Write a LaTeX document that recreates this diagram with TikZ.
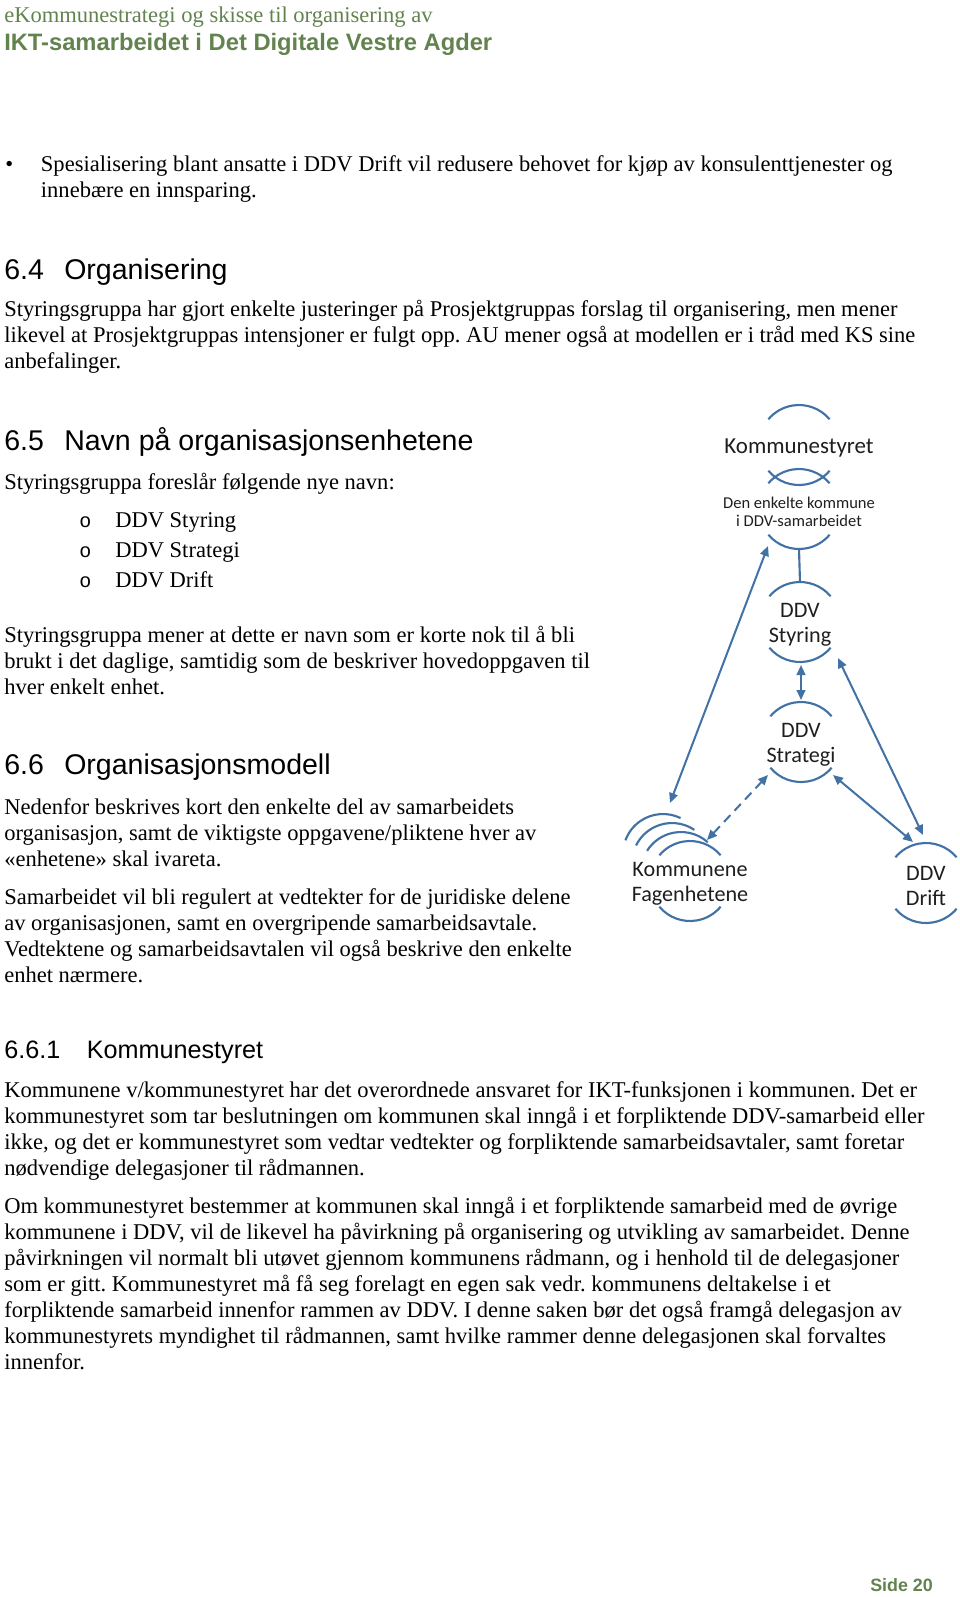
\documentclass[tikz,border=0pt]{standalone}
\usepackage{fontspec}
\setmainfont{Liberation Serif}
\setmonofont{Liberation Mono}
\newfontfamily\headfont{Liberation Sans}
\newfontfamily\diagfont{Carlito}
\usetikzlibrary{arrows.meta,calc}
\frenchspacing

\definecolor{hdrgreen}{RGB}{98,130,78}
\definecolor{orgblue}{RGB}{66,113,166}
\definecolor{orgtext}{RGB}{30,30,30}

\tikzset{
  body/.style={anchor=base west, inner sep=0pt, align=left, font=\fontsize{16.9}{19.5}\selectfont},
  heading/.style={anchor=base west, inner sep=0pt, font=\headfont\fontsize{21.4}{24}\selectfont},
  unit/.style={align=center, inner sep=0pt, text=orgtext, font=\diagfont\fontsize{16.6}{19}\selectfont},
  ring/.style={orgblue, line width=1.6pt},
  link/.style={orgblue, line width=1.5pt, {Triangle[length=7.5pt,width=6.5pt]}-{Triangle[length=7.5pt,width=6.5pt]}}
}

\begin{document}
\begin{tikzpicture}[x=0.75pt, y=0.75pt]
\useasboundingbox (0,0) rectangle (960,-1597);

% page header
\node[body, text=hdrgreen] (hdrone) at (4,-22.4) {eKommunestrategi og skisse til organisering av};
\node[anchor=base west, inner sep=0pt, text=hdrgreen, font=\headfont\bfseries\fontsize{17.8}{20}\selectfont] (hdrtwo) at (4,-50.9) {IKT-samarbeidet i Det Digitale Vestre Agder};

% multi-line texts sit on the baseline of their last line
\node[body] (bullet) at (5,-171) {\textbullet};
\node[body] (spes) at (40.7,-197) {Spesialisering blant ansatte i DDV Drift vil redusere behovet for kjøp av konsulenttjenester og\\innebære en innsparing.};

\node[heading] (hsixfour) at (4,-279) {6.4};
\node[heading] (horg) at (64,-279) {Organisering};
\node[body] (porg) at (4,-368.6) {Styringsgruppa har gjort enkelte justeringer på Prosjektgruppas forslag til organisering, men mener\\likevel at Prosjektgruppas intensjoner er fulgt opp. AU mener også at modellen er i tråd med KS sine\\anbefalinger.};

\node[heading] (hsixfive) at (4,-450) {6.5};
\node[heading] (hnavn) at (64,-450) {Navn på organisasjonsenhetene};
\node[body] (pnavn) at (4,-489.6) {Styringsgruppa foreslår følgende nye navn:};
\foreach \t [count=\i] in {Styring,Strategi,Drift}{
  \node[body, font=\ttfamily\fontsize{15}{17}\selectfont] (mark\i) at (79,-527.3-30*\i+30) {o};
  \node[body] (item\i) at (115,-527.3-30*\i+30) {DDV \t};
}
\node[body] (pkort) at (4,-694.3) {Styringsgruppa mener at dette er navn som er korte nok til å bli\\brukt i det daglige, samtidig som de beskriver hovedoppgaven til\\hver enkelt enhet.};

\node[heading] (hsixsix) at (4,-774.7) {6.6};
\node[heading] (hmodell) at (64,-774.7) {Organisasjonsmodell};
\node[body] (pneden) at (4,-866.4) {Nedenfor beskrives kort den enkelte del av samarbeidets\\organisasjon, samt de viktigste oppgavene/pliktene hver av\\«enhetene» skal ivareta.};
\node[body] (psamarb) at (4,-982) {Samarbeidet vil bli regulert at vedtekter for de juridiske delene\\av organisasjonen, samt en overgripende samarbeidsavtale.\\Vedtektene og samarbeidsavtalen vil også beskrive den enkelte\\enhet nærmere.};

\node[heading, font=\headfont\fontsize{18.9}{22}\selectfont] (hsixsixone) at (4,-1058.7) {6.6.1};
\node[heading, font=\headfont\fontsize{18.9}{22}\selectfont] (hkst) at (86.5,-1058.7) {Kommunestyret};
\node[body] (pansvar) at (4,-1175.4) {Kommunene v/kommunestyret har det overordnede ansvaret for IKT-funksjonen i kommunen. Det er\\kommunestyret som tar beslutningen om kommunen skal inngå i et forpliktende DDV-samarbeid eller\\ikke, og det er kommunestyret som vedtar vedtekter og forpliktende samarbeidsavtaler, samt foretar\\nødvendige delegasjoner til rådmannen.};
\node[body] (pbestem) at (4,-1369.4) {Om kommunestyret bestemmer at kommunen skal inngå i et forpliktende samarbeid med de øvrige\\kommunene i DDV, vil de likevel ha påvirkning på organisering og utvikling av samarbeidet. Denne\\påvirkningen vil normalt bli utøvet gjennom kommunens rådmann, og i henhold til de delegasjoner\\som er gitt. Kommunestyret må få seg forelagt en egen sak vedr. kommunens deltakelse i et\\forpliktende samarbeid innenfor rammen av DDV. I denne saken bør det også framgå delegasjon av\\kommunestyrets myndighet til rådmannen, samt hvilke rammer denne delegasjonen skal forvaltes\\innenfor.};

\node[anchor=base west, inner sep=0pt, text=hdrgreen, font=\headfont\bfseries\fontsize{13.4}{15}\selectfont] (side) at (870,-1591) {Side 20};

% organisasjonsmodell (texts sit 3 units below the centre of their rings)
\node[unit, font=\diagfont\fontsize{17.2}{19}\selectfont] (kst) at (799,-448) {Kommunestyret};
\node[unit, font=\diagfont\fontsize{12.4}{13.5}\selectfont] (enk) at (799,-512) {Den enkelte kommune\\i DDV-samarbeidet};
\node[unit] (sty) at (800,-625) {DDV\\Styring};
\node[unit] (str) at (801,-745) {DDV\\Strategi};
\node[unit] (kom) at (690,-884) {Kommunene\\Fagenhetene};
\node[unit] (dri) at (926,-886) {DDV\\Drift};

\foreach \n in {kst,enk,sty,str,kom,dri}{
  \draw[ring] ($(\n)+(0,3)+(40:30pt)$) arc[start angle=40, end angle=140, radius=30pt];
  \draw[ring] ($(\n)+(0,3)+(220:30pt)$) arc[start angle=220, end angle=320, radius=30pt];
}
\foreach \k/\a/\b in {1/48/148, 2/56/154, 3/64/160}
  \draw[ring] ($(kom)+(-9*\k,9*\k+3)+(\a:30pt)$) arc[start angle=\a, end angle=\b, radius=30pt];

\draw[ring] ($(enk)+(0,-37)$) -- ($(sty)+(0,43)$);
\draw[link] ($(sty)+(1,-40)$) -- ($(str)+(0,45)$);
\draw[link] ($(kom)+(-20,81)$) -- ($(enk)+(-31,-34)$);
\draw[link] ($(sty)+(38,-33)$) -- ($(dri)+(-3,51)$);
\draw[link] ($(str)+(32,-30)$) -- ($(dri)+(-13,44)$);
\draw[link, dash pattern=on 7pt off 4.5pt] ($(kom)+(17,44)$) -- ($(str)+(-33,-30)$);

\end{tikzpicture}
\end{document}
